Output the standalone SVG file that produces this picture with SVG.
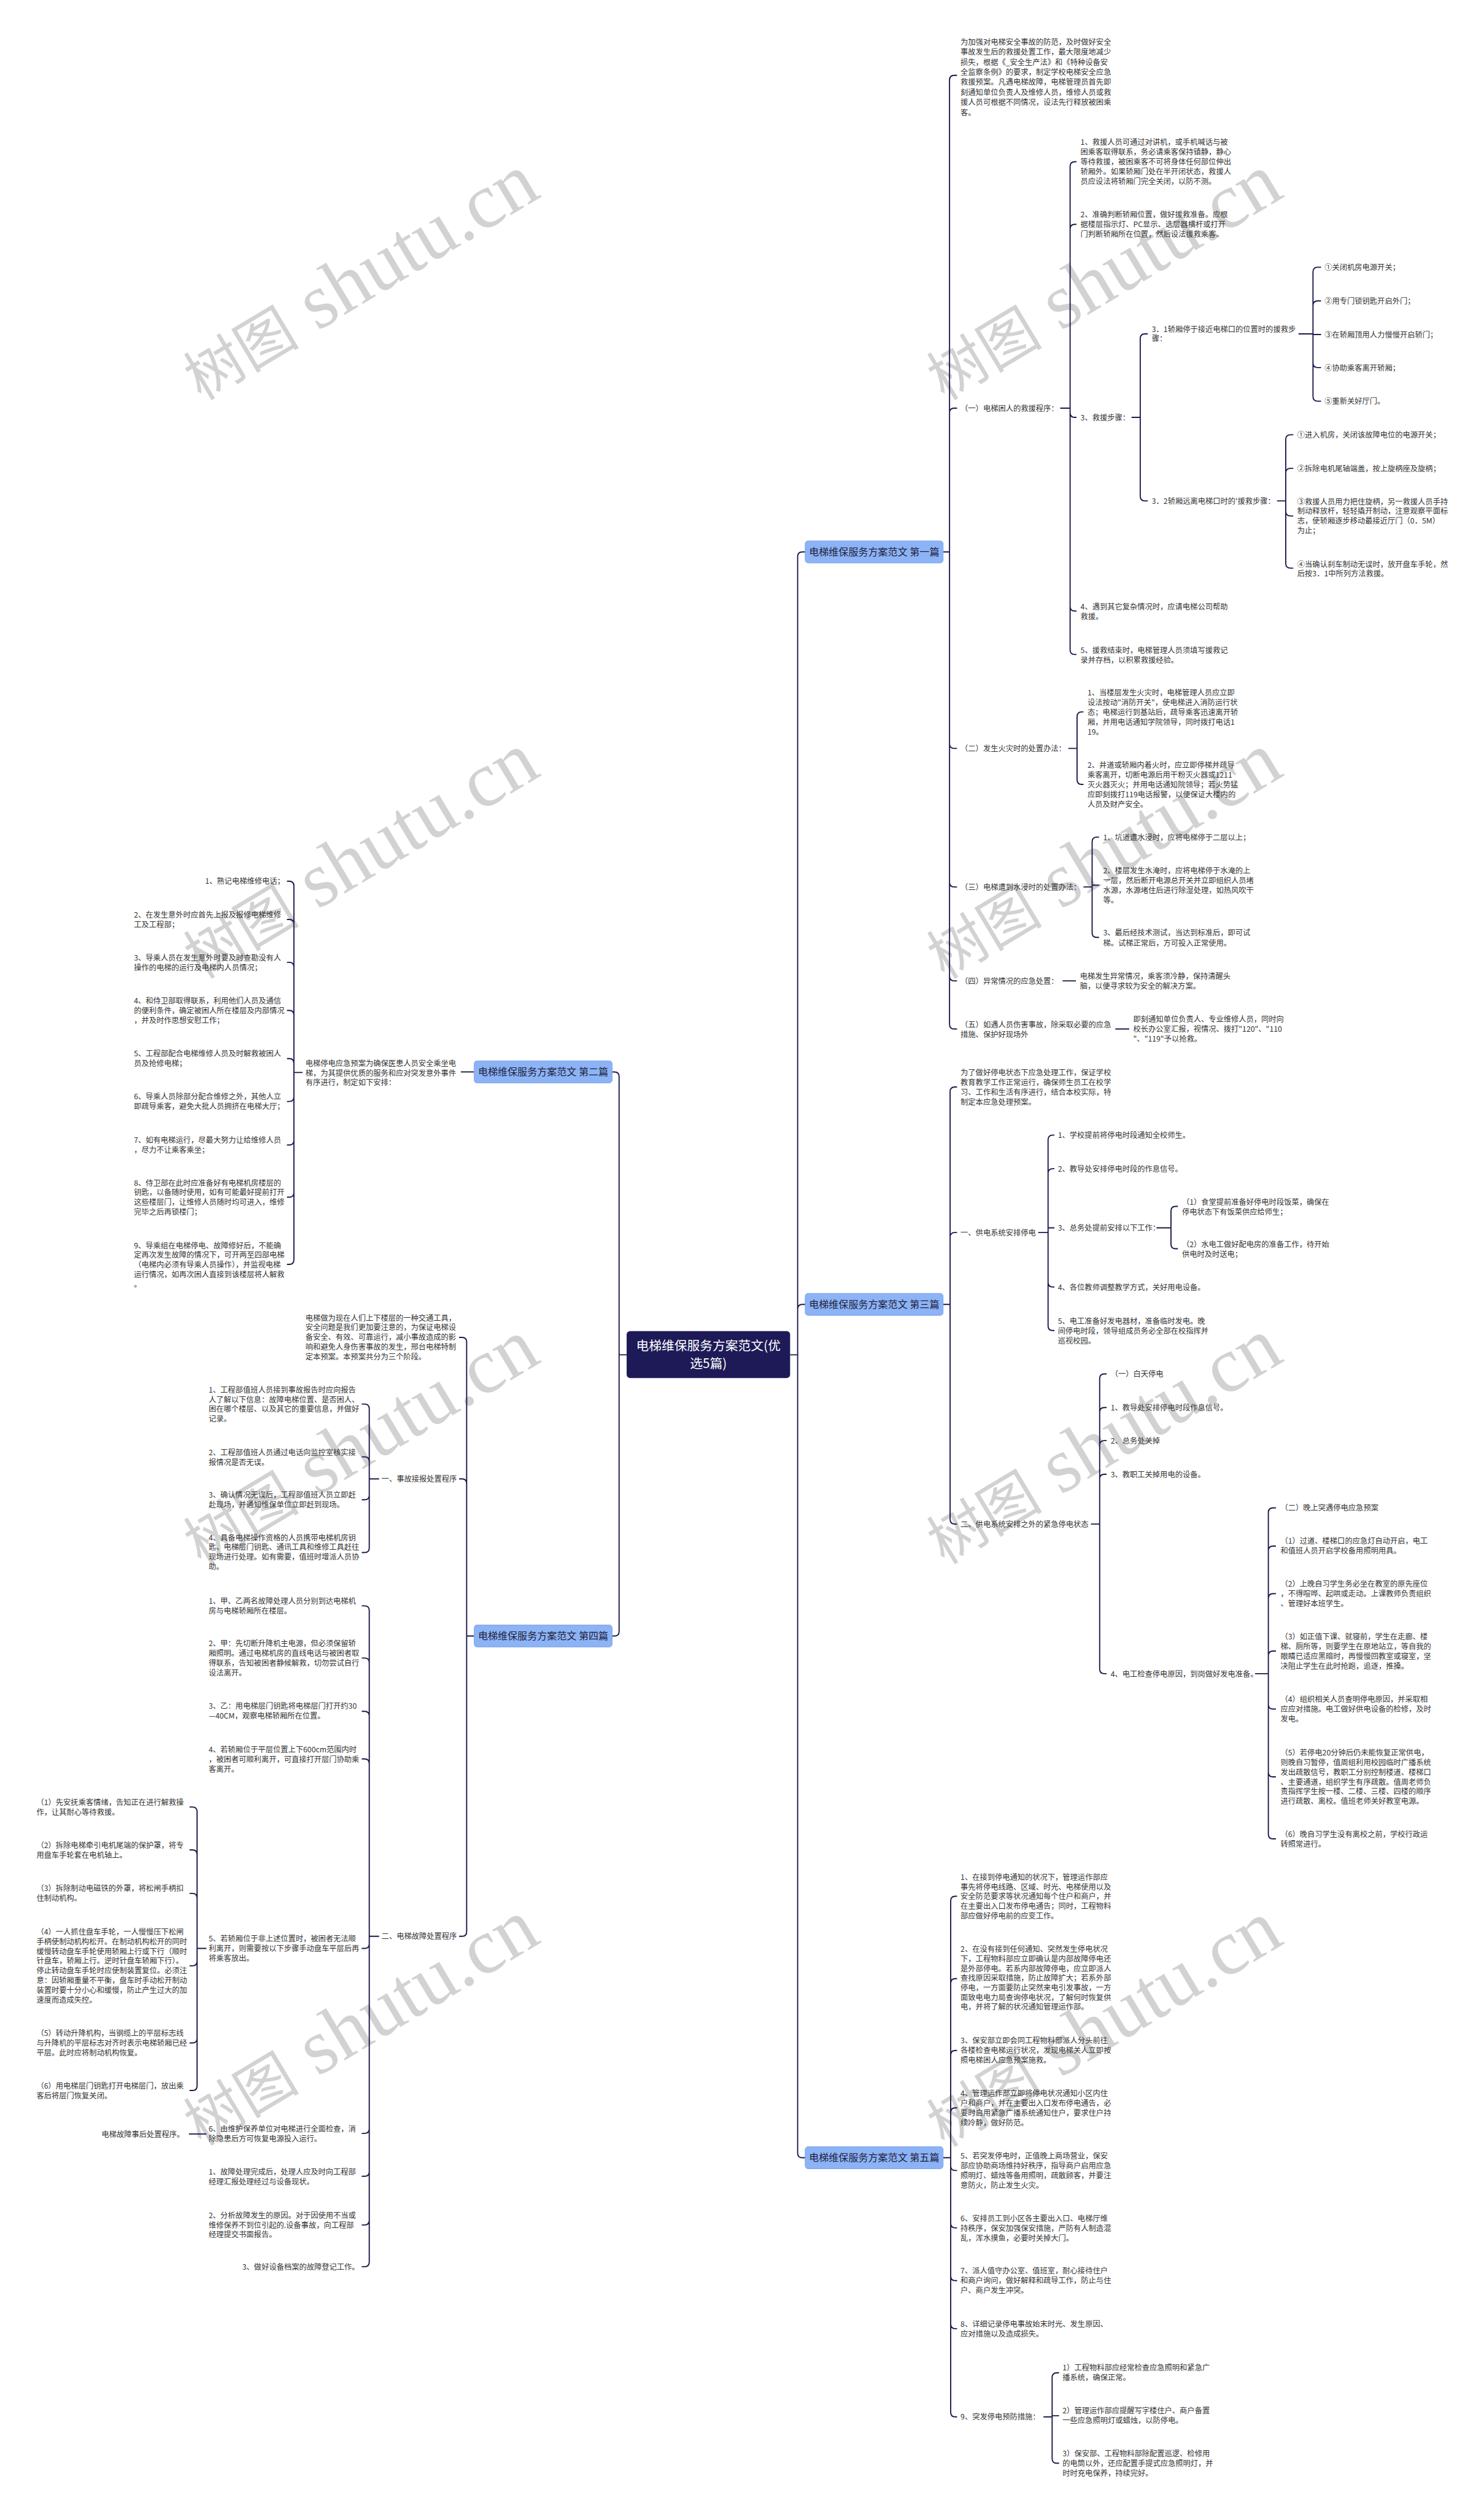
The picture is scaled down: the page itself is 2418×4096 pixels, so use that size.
<svg xmlns="http://www.w3.org/2000/svg" width="2418" height="4096" viewBox="0 0 2418 4096">
<style>
text{font-family:"Noto Sans CJK SC","Liberation Sans",sans-serif}
.t{font-size:13px;fill:#333}
.b{font-size:17px;fill:#1e1e3c;text-anchor:middle}
.br{fill:#8cb3f5;stroke:#7aa2ea;stroke-width:1}
.rt{fill:#1d1a57}
.r{font-size:22px;fill:#fff;text-anchor:middle}
.c path{fill:none;stroke:#1b1a4a;stroke-width:2}
.wm{font-family:"Liberation Serif","Noto Sans CJK SC",serif;fill:#d2d2d2}
.e{text-anchor:end}
</style>
<rect width="2418" height="4096" fill="#fff"/>
<g transform="scale(0.94453)">
<g id="watermarks">
<text class="wm" transform="translate(347,692) rotate(-31)"><tspan font-size="100">树图</tspan><tspan font-size="135"> shutu.cn</tspan></text>
<text class="wm" transform="translate(1629,692) rotate(-31)"><tspan font-size="100">树图</tspan><tspan font-size="135"> shutu.cn</tspan></text>
<text class="wm" transform="translate(347,1690) rotate(-31)"><tspan font-size="100">树图</tspan><tspan font-size="135"> shutu.cn</tspan></text>
<text class="wm" transform="translate(1629,1690) rotate(-31)"><tspan font-size="100">树图</tspan><tspan font-size="135"> shutu.cn</tspan></text>
<text class="wm" transform="translate(347,2702) rotate(-31)"><tspan font-size="100">树图</tspan><tspan font-size="135"> shutu.cn</tspan></text>
<text class="wm" transform="translate(1629,2700) rotate(-31)"><tspan font-size="100">树图</tspan><tspan font-size="135"> shutu.cn</tspan></text>
<text class="wm" transform="translate(347,3703) rotate(-31)"><tspan font-size="100">树图</tspan><tspan font-size="135"> shutu.cn</tspan></text>
<text class="wm" transform="translate(1629,3705) rotate(-31)"><tspan font-size="100">树图</tspan><tspan font-size="135"> shutu.cn</tspan></text>
</g>
<g id="connectors" class="c">
<path d="M1363 2337H1376M1376 2337V960Q1376 952 1384 952H1389M1376 2337V2258Q1376 2250 1384 2250H1389M1376 2337V3714Q1376 3722 1384 3722H1389"/>
<path d="M1081 2337H1068M1068 2337V1857Q1068 1849 1060 1849H1056M1068 2337V2814Q1068 2822 1060 2822H1056"/>
<path d="M1627 952H1638M1638 952V138Q1638 130 1646 130H1651M1638 952V712Q1638 704 1646 704H1651M1638 952V1283Q1638 1291 1646 1291H1651M1638 952V1522Q1638 1530 1646 1530H1651M1638 952V1684Q1638 1692 1646 1692H1651M1638 952V1767Q1638 1775 1646 1775H1651"/>
<path d="M1829 704H1846M1846 704V287Q1846 279 1854 279H1857M1846 704V395Q1846 387 1854 387H1857M1846 704V712Q1846 720 1854 720H1857M1846 704V1046Q1846 1054 1854 1054H1857M1846 704V1121Q1846 1129 1854 1129H1857"/>
<path d="M1952 720H1967M1967 720V584Q1967 576 1975 576H1980M1967 720V856Q1967 864 1975 864H1980"/>
<path d="M2240 576H2265M2265 576V469Q2265 461 2273 461H2279M2265 576V527Q2265 519 2273 519H2279M2265 576V577H2279M2265 576V626Q2265 634 2273 634H2279M2265 576V684Q2265 692 2273 692H2279"/>
<path d="M2203 864H2218M2218 864V758Q2218 750 2226 750H2231M2218 864V816Q2218 808 2226 808H2231M2218 864V882Q2218 890 2226 890H2231M2218 864V972Q2218 980 2226 980H2231"/>
<path d="M1843 1291H1858M1858 1291V1236Q1858 1228 1866 1228H1869M1858 1291V1345Q1858 1353 1866 1353H1869"/>
<path d="M1869 1530H1884M1884 1530V1452Q1884 1444 1892 1444H1896M1884 1530V1527H1896M1884 1530V1609Q1884 1617 1892 1617H1896"/>
<path d="M1833 1692H1856M1924 1775H1948"/>
<path d="M1627 2250H1639M1639 2250V1883Q1639 1875 1647 1875H1651M1639 2250V2134Q1639 2126 1647 2126H1651M1639 2250V2621Q1639 2629 1647 2629H1651"/>
<path d="M1791 2126H1808M1808 2126V1966Q1808 1958 1816 1958H1819M1808 2126V2024Q1808 2016 1816 2016H1819M1808 2126V2118H1819M1808 2126V2212Q1808 2220 1816 2220H1819M1808 2126V2287Q1808 2295 1816 2295H1819"/>
<path d="M1995 2118H2020M2020 2118V2089Q2020 2081 2028 2081H2032M2020 2118V2146Q2020 2154 2028 2154H2032"/>
<path d="M1882 2629H1897M1897 2629V2378Q1897 2370 1905 2370H1909M1897 2629V2436Q1897 2428 1905 2428H1909M1897 2629V2493Q1897 2485 1905 2485H1909M1897 2629V2551Q1897 2543 1905 2543H1909M1897 2629V2879Q1897 2887 1905 2887H1909"/>
<path d="M2165 2887H2188M2188 2887V2609Q2188 2601 2196 2601H2201M2188 2887V2675Q2188 2667 2196 2667H2201M2188 2887V2757Q2188 2749 2196 2749H2201M2188 2887V2856Q2188 2848 2196 2848H2201M2188 2887V2940Q2188 2948 2196 2948H2201M2188 2887V3057Q2188 3065 2196 3065H2201M2188 2887V3164Q2188 3172 2196 3172H2201"/>
<path d="M1627 3722H1640M1640 3722V3279Q1640 3271 1648 3271H1651M1640 3722V3421Q1640 3413 1648 3413H1651M1640 3722V3545Q1640 3537 1648 3537H1651M1640 3722V3644Q1640 3636 1648 3636H1651M1640 3722V3736Q1640 3744 1648 3744H1651M1640 3722V3835Q1640 3843 1648 3843H1651M1640 3722V3926Q1640 3934 1648 3934H1651M1640 3722V4009Q1640 4017 1648 4017H1651M1640 3722V4161Q1640 4169 1648 4169H1651"/>
<path d="M1800 4169H1815M1815 4169V4101Q1815 4093 1823 4093H1827M1815 4169V4167H1827M1815 4169V4241Q1815 4249 1823 4249H1827"/>
<path d="M818 1849H795"/>
<path d="M522 1850H507M507 1850V1528Q507 1520 499 1520H495M507 1850V1594Q507 1586 499 1586H495M507 1850V1668Q507 1660 499 1660H495M507 1850V1751Q507 1743 499 1743H495M507 1850V1834Q507 1826 499 1826H495M507 1850V1892Q507 1900 499 1900H495M507 1850V1967Q507 1975 499 1975H495M507 1850V2057Q507 2065 499 2065H495M507 1850V2173Q507 2181 499 2181H495"/>
<path d="M818 2822H805M805 2822V2315Q805 2307 797 2307H792M805 2822V2559Q805 2551 797 2551H792M805 2822V3332Q805 3340 797 3340H792"/>
<path d="M654 2551H637M637 2551V2430Q637 2422 629 2422H624M637 2551V2521Q637 2513 629 2513H624M637 2551V2579Q637 2587 629 2587H624M637 2551V2670Q637 2678 629 2678H624"/>
<path d="M654 3340H637M637 3340V2778Q637 2770 629 2770H624M637 3340V2868Q637 2860 629 2860H624M637 3340V2960Q637 2952 629 2952H624M637 3340V3042Q637 3034 629 3034H624M637 3340V3353Q637 3361 629 3361H624M637 3340V3672Q637 3680 629 3680H624M637 3340V3746Q637 3754 629 3754H624M637 3340V3830Q637 3838 629 3838H624M637 3340V3902Q637 3910 629 3910H624"/>
<path d="M356 3361H340M340 3361V3125Q340 3117 332 3117H327M340 3361V3199Q340 3191 332 3191H327M340 3361V3274Q340 3266 332 3266H327M340 3361V3383Q340 3391 332 3391H327M340 3361V3516Q340 3524 332 3524H327M340 3361V3598Q340 3606 332 3606H327"/>
<path d="M356 3681H326"/>
</g>
<g id="root"><rect class="rt" x="1081" y="2296" width="282" height="81" rx="6"/><text class="r" x="1222" y="2329">电梯维保服务方案范文(优<tspan x="1222" dy="31">选5篇)</tspan></text></g>
<g id="b1"><rect class="br" x="1389" y="933" width="238" height="38" rx="5"/><text class="b" x="1508" y="958">电梯维保服务方案范文 第一篇</text></g>
<g id="b2"><rect class="br" x="818" y="1830" width="238" height="38" rx="5"/><text class="b" x="937" y="1855">电梯维保服务方案范文 第二篇</text></g>
<g id="b3"><rect class="br" x="1389" y="2231" width="238" height="38" rx="5"/><text class="b" x="1508" y="2256">电梯维保服务方案范文 第三篇</text></g>
<g id="b4"><rect class="br" x="818" y="2803" width="238" height="38" rx="5"/><text class="b" x="937" y="2828">电梯维保服务方案范文 第四篇</text></g>
<g id="b5"><rect class="br" x="1389" y="3703" width="238" height="38" rx="5"/><text class="b" x="1508" y="3728">电梯维保服务方案范文 第五篇</text></g>
<g id="b1-intro"><text class="t" x="1657" y="77">为加强对电梯安全事故的防范，及时做好安全<tspan x="1657" dy="17.4">事故发生后的救援处置工作，最大限度地减少</tspan><tspan x="1657" dy="17.4">损失，根据《_安全生产法》和《特种设备安</tspan><tspan x="1657" dy="17.4">全监察条例》的要求，制定学校电梯安全应急</tspan><tspan x="1657" dy="17.4">救援预案。凡遇电梯故障，电梯管理员首先即</tspan><tspan x="1657" dy="17.4">刻通知单位负责人及维修人员，维修人员或救</tspan><tspan x="1657" dy="17.4">援人员可根据不同情况，设法先行释放被困乘</tspan><tspan x="1657" dy="17.4">客。</tspan></text></g>
<g id="b1-1"><text class="t" x="1657" y="709">（一）电梯困人的救援程序：</text></g>
<g id="b1-1-1"><text class="t" x="1864" y="250">1、救援人员可通过对讲机，或手机喊话与被<tspan x="1864" dy="17">困乘客取得联系，务必请乘客保持镇静，静心</tspan><tspan x="1864" dy="17">等待救援，被困乘客不可将身体任何部位伸出</tspan><tspan x="1864" dy="17">轿厢外。如果轿厢门处在半开闭状态，救援人</tspan><tspan x="1864" dy="17">员应设法将轿厢门完全关闭，以防不测。</tspan></text></g>
<g id="b1-1-2"><text class="t" x="1864" y="375">2、准确判断轿厢位置，做好援救准备。应根<tspan x="1864" dy="17">据楼层指示灯、PC显示、选层器横杆或打开</tspan><tspan x="1864" dy="17">门判断轿厢所在位置，然后设法援救乘客。</tspan></text></g>
<g id="b1-1-3"><text class="t" x="1864" y="725">3、救援步骤：</text></g>
<g id="b1-1-3-1"><text class="t" x="1987" y="573">3．1轿厢停于接近电梯口的位置时的援救步<tspan x="1987" dy="16">骤：</tspan></text></g>
<g id="b1-1-3-1a"><text class="t" x="2285" y="466">①关闭机房电源开关；</text></g>
<g id="b1-1-3-1b"><text class="t" x="2285" y="524">②用专门锁钥匙开启外门；</text></g>
<g id="b1-1-3-1c"><text class="t" x="2285" y="582">③在轿厢顶用人力慢慢开启轿门；</text></g>
<g id="b1-1-3-1d"><text class="t" x="2285" y="639">④协助乘客离开轿厢；</text></g>
<g id="b1-1-3-1e"><text class="t" x="2285" y="697">⑤重新关好厅门。</text></g>
<g id="b1-1-3-2"><text class="t" x="1987" y="869">3．2轿厢远离电梯口时的'援救步骤：</text></g>
<g id="b1-1-3-2a"><text class="t" x="2238" y="755">①进入机房，关闭该故障电位的电源开关；</text></g>
<g id="b1-1-3-2b"><text class="t" x="2238" y="813">②拆除电机尾轴端盖，按上旋柄座及旋柄；</text></g>
<g id="b1-1-3-2c"><text class="t" x="2238" y="870">③救援人员用力把住旋柄，另一救援人员手持<tspan x="2238" dy="16.7">制动释放杆，轻轻撬开制动，注意观察平面标</tspan><tspan x="2238" dy="16.7">志，使轿厢逐步移动最接近厅门（0．5M）</tspan><tspan x="2238" dy="16.7">为止；</tspan></text></g>
<g id="b1-1-3-2d"><text class="t" x="2238" y="978">④当确认刹车制动无误时，放开盘车手轮，然<tspan x="2238" dy="16.5">后按3．1中所列方法救援。</tspan></text></g>
<g id="b1-1-4"><text class="t" x="1864" y="1051">4、遇到其它复杂情况时，应请电梯公司帮助<tspan x="1864" dy="17">救援。</tspan></text></g>
<g id="b1-1-5"><text class="t" x="1864" y="1126">5、援救结束时，电梯管理人员须填写援救记<tspan x="1864" dy="17">录并存档，以积累救援经验。</tspan></text></g>
<g id="b1-2"><text class="t" x="1657" y="1296">（二）发生火灾时的处置办法：</text></g>
<g id="b1-2-1"><text class="t" x="1876" y="1200">1、当楼层发生火灾时，电梯管理人员应立即<tspan x="1876" dy="16.7">设法按动"消防开关"，使电梯进入消防运行状</tspan><tspan x="1876" dy="16.7">态；电梯运行到基站后，疏导乘客迅速离开轿</tspan><tspan x="1876" dy="16.7">厢，并用电话通知学院领导，同时拨打电话1</tspan><tspan x="1876" dy="16.7">19。</tspan></text></g>
<g id="b1-2-2"><text class="t" x="1876" y="1325">2、井道或轿厢内着火时，应立即停梯并疏导<tspan x="1876" dy="16.7">乘客离开，切断电源后用干粉灭火器或1211</tspan><tspan x="1876" dy="16.7">灭火器灭火；并用电话通知院领导；若火势猛</tspan><tspan x="1876" dy="16.7">应即刻拨打119电话报警，以便保证大楼内的</tspan><tspan x="1876" dy="16.7">人员及财产安全。</tspan></text></g>
<g id="b1-3"><text class="t" x="1657" y="1535">（三）电梯遭到水浸时的处置办法：</text></g>
<g id="b1-3-1"><text class="t" x="1903" y="1449">1、坑道遭水浸时，应将电梯停于二层以上；</text></g>
<g id="b1-3-2"><text class="t" x="1903" y="1507">2、楼层发生水淹时，应将电梯停于水淹的上<tspan x="1903" dy="16.7">一层，然后断开电源总开关并立即组织人员堵</tspan><tspan x="1903" dy="16.7">水源，水源堵住后进行除湿处理，如热风吹干</tspan><tspan x="1903" dy="16.7">等。</tspan></text></g>
<g id="b1-3-3"><text class="t" x="1903" y="1614">3、最后经技术测试，当达到标准后，即可试<tspan x="1903" dy="17">梯。试梯正常后，方可投入正常使用。</tspan></text></g>
<g id="b1-4"><text class="t" x="1657" y="1697">（四）异常情况的应急处置：</text></g>
<g id="b1-4-1"><text class="t" x="1863" y="1689">电梯发生异常情况，乘客须冷静，保持清醒头<tspan x="1863" dy="17">脑，以便寻求较为安全的解决方案。</tspan></text></g>
<g id="b1-5"><text class="t" x="1657" y="1772">（五）如遇人员伤害事故，除采取必要的应急<tspan x="1657" dy="17">措施、保护好现场外</tspan></text></g>
<g id="b1-5-1"><text class="t" x="1955" y="1763">即刻通知单位负责人、专业维修人员，同时向<tspan x="1955" dy="16.7">校长办公室汇报，视情况、拨打"120"、"110</tspan><tspan x="1955" dy="16.7">"、"119"予以抢救。</tspan></text></g>
<g id="b3-intro"><text class="t" x="1657" y="1855">为了做好停电状态下应急处理工作，保证学校<tspan x="1657" dy="17">教育教学工作正常运行，确保师生员工在校学</tspan><tspan x="1657" dy="17">习、工作和生活有序进行，结合本校实际，特</tspan><tspan x="1657" dy="17">制定本应急处理预案。</tspan></text></g>
<g id="b3-1"><text class="t" x="1657" y="2131">一、供电系统安排停电</text></g>
<g id="b3-1-1"><text class="t" x="1825" y="1963">1、学校提前将停电时段通知全校师生。</text></g>
<g id="b3-1-2"><text class="t" x="1825" y="2021">2、教导处安排停电时段的作息信号。</text></g>
<g id="b3-1-3"><text class="t" x="1825" y="2123">3、总务处提前安排以下工作：</text></g>
<g id="b3-1-3-1"><text class="t" x="2039" y="2078">（1）食堂提前准备好停电时段饭菜，确保在<tspan x="2039" dy="17">停电状态下有饭菜供应给师生；</tspan></text></g>
<g id="b3-1-3-2"><text class="t" x="2039" y="2151">（2）水电工做好配电房的准备工作，待开始<tspan x="2039" dy="17">供电时及时送电；</tspan></text></g>
<g id="b3-1-4"><text class="t" x="1825" y="2225">4、各位教师调整教学方式，关好用电设备。</text></g>
<g id="b3-1-5"><text class="t" x="1825" y="2284">5、电工准备好发电器材，准备临时发电。晚<tspan x="1825" dy="16.7">间停电时段，领导组成员务必全部在校指挥并</tspan><tspan x="1825" dy="16.7">巡视校园。</tspan></text></g>
<g id="b3-2"><text class="t" x="1657" y="2634">二、供电系统安排之外的紧急停电状态</text></g>
<g id="b3-2-1"><text class="t" x="1916" y="2375">（一）白天停电</text></g>
<g id="b3-2-2"><text class="t" x="1916" y="2433">1、教导处安排停电时段作息信号。</text></g>
<g id="b3-2-3"><text class="t" x="1916" y="2490">2、总务处关掉</text></g>
<g id="b3-2-4"><text class="t" x="1916" y="2548">3、教职工关掉用电的设备。</text></g>
<g id="b3-2-5"><text class="t" x="1916" y="2892">4、电工检查停电原因，到岗做好发电准备。</text></g>
<g id="b3-2-5-0"><text class="t" x="2209" y="2606">（二）晚上突遇停电应急预案</text></g>
<g id="b3-2-5-1"><text class="t" x="2209" y="2663">（1）过道、楼梯口的应急灯自动开启，电工<tspan x="2209" dy="17">和值班人员开启学校备用照明用具。</tspan></text></g>
<g id="b3-2-5-2"><text class="t" x="2209" y="2737">（2）上晚自习学生务必坐在教室的原先座位<tspan x="2209" dy="17">，不得喧哗、起哄或走动。上课教师负责组织</tspan><tspan x="2209" dy="17">、管理好本班学生。</tspan></text></g>
<g id="b3-2-5-3"><text class="t" x="2209" y="2828">（3）如正值下课、就寝前，学生在走廊、楼<tspan x="2209" dy="17">梯、厕所等，则要学生在原地站立，等自我的</tspan><tspan x="2209" dy="17">眼睛已适应黑暗时，再慢慢回教室或寝室，坚</tspan><tspan x="2209" dy="17">决阻止学生在此时抢跑，追逐，推搡。</tspan></text></g>
<g id="b3-2-5-4"><text class="t" x="2209" y="2936">（4）组织相关人员查明停电原因，并采取相<tspan x="2209" dy="17">应应对措施。电工做好供电设备的检修，及时</tspan><tspan x="2209" dy="17">发电。</tspan></text></g>
<g id="b3-2-5-5"><text class="t" x="2209" y="3028">（5）若停电20分钟后仍未能恢复正常供电，<tspan x="2209" dy="16.8">则晚自习暂停，值周组利用校园临时广播系统</tspan><tspan x="2209" dy="16.8">发出疏散信号，教职工分别控制楼道、楼梯口</tspan><tspan x="2209" dy="16.8">、主要通道，组织学生有序疏散。值周老师负</tspan><tspan x="2209" dy="16.8">责指挥学生按一楼、二楼、三楼、四楼的顺序</tspan><tspan x="2209" dy="16.8">进行疏散、离校。值班老师关好教室电源。</tspan></text></g>
<g id="b3-2-5-6"><text class="t" x="2209" y="3169">（6）晚自习学生没有离校之前，学校行政运<tspan x="2209" dy="17">转照常进行。</tspan></text></g>
<g id="b5-1"><text class="t" x="1657" y="3243">1、在接到停电通知的状况下，管理运作部应<tspan x="1657" dy="16.6">事先将停电线路、区域、时光、电梯使用以及</tspan><tspan x="1657" dy="16.6">安全防范要求等状况通知每个住户和商户，并</tspan><tspan x="1657" dy="16.6">在主要出入口发布停电通告；同时，工程物料</tspan><tspan x="1657" dy="16.6">部应做好停电前的应变工作。</tspan></text></g>
<g id="b5-2"><text class="t" x="1657" y="3367">2、在没有接到任何通知、突然发生停电状况<tspan x="1657" dy="16.6">下，工程物料部应立即确认是内部故障停电还</tspan><tspan x="1657" dy="16.6">是外部停电。若系内部故障停电，应立即派人</tspan><tspan x="1657" dy="16.6">查找原因采取措施，防止故障扩大；若系外部</tspan><tspan x="1657" dy="16.6">停电，一方面要防止突然来电引发事故，一方</tspan><tspan x="1657" dy="16.6">面致电电力局查询停电状况，了解何时恢复供</tspan><tspan x="1657" dy="16.6">电，并将了解的状况通知管理运作部。</tspan></text></g>
<g id="b5-3"><text class="t" x="1657" y="3525">3、保安部立即会同工程物料部派人分头前往<tspan x="1657" dy="16.8">各楼检查电梯运行状况，发现电梯关人立即按</tspan><tspan x="1657" dy="16.8">照电梯困人应急预案施救。</tspan></text></g>
<g id="b5-4"><text class="t" x="1657" y="3616">4、管理运作部立即将停电状况通知小区内住<tspan x="1657" dy="16.8">户和商户，并在主要出入口发布停电通告，必</tspan><tspan x="1657" dy="16.8">要时启用紧急广播系统通知住户，要求住户持</tspan><tspan x="1657" dy="16.8">续冷静，做好防范。</tspan></text></g>
<g id="b5-5"><text class="t" x="1657" y="3724">5、若突发停电时，正值晚上商场营业，保安<tspan x="1657" dy="16.8">部应协助商场维持好秩序，指导商户启用应急</tspan><tspan x="1657" dy="16.8">照明灯、蜡烛等备用照明，疏散顾客，并要注</tspan><tspan x="1657" dy="16.8">意防火，防止发生火灾。</tspan></text></g>
<g id="b5-6"><text class="t" x="1657" y="3832">6、安排员工到小区各主要出入口、电梯厅维<tspan x="1657" dy="16.6">持秩序，保安加强保安措施，严防有人制造混</tspan><tspan x="1657" dy="16.6">乱，浑水摸鱼，必要时关掉大门。</tspan></text></g>
<g id="b5-7"><text class="t" x="1657" y="3922">7、派人值守办公室、值班室，耐心接待住户<tspan x="1657" dy="16.8">和商户询问，做好解释和疏导工作，防止与住</tspan><tspan x="1657" dy="16.8">户、商户发生冲突。</tspan></text></g>
<g id="b5-8"><text class="t" x="1657" y="4014">8、详细记录停电事故始末时光、发生原因、<tspan x="1657" dy="16.5">应对措施以及造成损失。</tspan></text></g>
<g id="b5-9"><text class="t" x="1657" y="4174">9、突发停电预防措施：</text></g>
<g id="b5-9-1"><text class="t" x="1833" y="4089">1）工程物料部应经常检查应急照明和紧急广<tspan x="1833" dy="17">播系统，确保正常。</tspan></text></g>
<g id="b5-9-2"><text class="t" x="1833" y="4163">2）管理运作部应提醒写字楼住户、商户备置<tspan x="1833" dy="17">一些应急照明灯或蜡烛，以防停电。</tspan></text></g>
<g id="b5-9-3"><text class="t" x="1833" y="4237">3）保安部、工程物料部除配置巡逻、检修用<tspan x="1833" dy="16.7">的电筒以外，还应配置手提式应急照明灯，并</tspan><tspan x="1833" dy="16.7">时时充电保养，持续完好。</tspan></text></g>
<g id="b2-intro"><text class="t" x="527" y="1839">电梯停电应急预案为确保医患人员安全乘坐电<tspan x="527" dy="16.6">梯，为其提供优质的服务和应对突发意外事件</tspan><tspan x="527" dy="16.6">有序进行，制定如下安排：</tspan></text></g>
<g id="b2-1"><text class="t e" x="491" y="1525">1、熟记电梯维修电话；</text></g>
<g id="b2-2"><text class="t" x="231" y="1583">2、在发生意外时应首先上报及报修电梯维修<tspan x="231" dy="16.6">工及工程部；</tspan></text></g>
<g id="b2-3"><text class="t" x="231" y="1657">3、导乘人员在发生意外时要及时查勘没有人<tspan x="231" dy="16.8">操作的电梯的运行及电梯内人员情况；</tspan></text></g>
<g id="b2-4"><text class="t" x="231" y="1731">4、和侍卫部取得联系，利用他们人员及通信<tspan x="231" dy="16.8">的便利条件，确定被困人所在楼层及内部情况</tspan><tspan x="231" dy="16.8">，并及时作思想安慰工作；</tspan></text></g>
<g id="b2-5"><text class="t" x="231" y="1822">5、工程部配合电梯维修人员及时解救被困人<tspan x="231" dy="16.8">员及抢修电梯；</tspan></text></g>
<g id="b2-6"><text class="t" x="231" y="1896">6、导乘人员除部分配合维修之外，其他人立<tspan x="231" dy="16.8">即疏导乘客，避免大批人员拥挤在电梯大厅；</tspan></text></g>
<g id="b2-7"><text class="t" x="231" y="1971">7、如有电梯运行，尽最大努力让给维修人员<tspan x="231" dy="16.8">，尽力不让乘客乘坐；</tspan></text></g>
<g id="b2-8"><text class="t" x="231" y="2045">8、侍卫部在此时应准备好有电梯机房楼层的<tspan x="231" dy="16.8">钥匙，以备随时使用，如有可能最好提前打开</tspan><tspan x="231" dy="16.8">这些楼层门，让维修人员随时均可进入，维修</tspan><tspan x="231" dy="16.8">完毕之后再锁楼门；</tspan></text></g>
<g id="b2-9"><text class="t" x="231" y="2153">9、导乘组在电梯停电、故障修好后，不能确<tspan x="231" dy="16.8">定再次发生故障的情况下，可开两至四部电梯</tspan><tspan x="231" dy="16.8">（电梯内必须有导乘人员操作），并监视电梯</tspan><tspan x="231" dy="16.8">运行情况，如再次困人直接到该楼层将人解救</tspan><tspan x="231" dy="16.8">。</tspan></text></g>
<g id="b4-intro"><text class="t" x="527" y="2278">电梯做为现在人们上下楼层的一种交通工具，<tspan x="527" dy="16.8">安全问题是我们更加要注意的，为保证电梯设</tspan><tspan x="527" dy="16.8">备安全、有效、可靠运行，减小事故造成的影</tspan><tspan x="527" dy="16.8">响和避免人身伤害事故的发生，邢台电梯特制</tspan><tspan x="527" dy="16.8">定本预案。本预案共分为三个阶段。</tspan></text></g>
<g id="b4-1"><text class="t e" x="788" y="2556">一、事故接报处置程序</text></g>
<g id="b4-1-1"><text class="t" x="360" y="2402">1、工程部值班人员接到事故报告时应向报告<tspan x="360" dy="16.8">人了解以下信息：故障电梯位置、是否困人、</tspan><tspan x="360" dy="16.8">困在哪个楼层、以及其它的重要信息，并做好</tspan><tspan x="360" dy="16.8">记录。</tspan></text></g>
<g id="b4-1-2"><text class="t" x="360" y="2510">2、工程部值班人员通过电话向监控室核实接<tspan x="360" dy="16.8">报情况是否无误。</tspan></text></g>
<g id="b4-1-3"><text class="t" x="360" y="2583">3、确认情况无误后，工程部值班人员立即赶<tspan x="360" dy="16.8">赴现场，并通知维保单位立即赶到现场。</tspan></text></g>
<g id="b4-1-4"><text class="t" x="360" y="2657">4、具备电梯操作资格的人员携带电梯机房钥<tspan x="360" dy="16.8">匙、电梯层门钥匙、通讯工具和维修工具赶往</tspan><tspan x="360" dy="16.8">现场进行处理。如有需要，值班时增派人员协</tspan><tspan x="360" dy="16.8">助。</tspan></text></g>
<g id="b4-2"><text class="t e" x="788" y="3345">二、电梯故障处置程序</text></g>
<g id="b4-2-1"><text class="t" x="360" y="2767">1、甲、乙两名故障处理人员分别到达电梯机<tspan x="360" dy="16.8">房与电梯轿厢所在楼层。</tspan></text></g>
<g id="b4-2-2"><text class="t" x="360" y="2840">2、甲：先切断升降机主电源，但必须保留轿<tspan x="360" dy="16.8">厢照明。通过电梯机房的直线电话与被困者取</tspan><tspan x="360" dy="16.8">得联系，告知被困者静候解救，切勿尝试自行</tspan><tspan x="360" dy="16.8">设法离开。</tspan></text></g>
<g id="b4-2-3"><text class="t" x="360" y="2948">3、乙：用电梯层门钥匙将电梯层门打开约30<tspan x="360" dy="16.8">—40CM，观察电梯轿厢所在位置。</tspan></text></g>
<g id="b4-2-4"><text class="t" x="360" y="3023">4、若轿厢位于平层位置上下600cm范围内时<tspan x="360" dy="16.8">，被困者可顺利离开，可直接打开层门协助乘</tspan><tspan x="360" dy="16.8">客离开。</tspan></text></g>
<g id="b4-2-5"><text class="t" x="360" y="3349">5、若轿厢位于非上述位置时，被困者无法顺<tspan x="360" dy="16.8">利离开，则需要按以下步骤手动盘车平层后再</tspan><tspan x="360" dy="16.8">将乘客放出。</tspan></text></g>
<g id="b4-2-5-1"><text class="t" x="63" y="3114">（1）先安抚乘客情绪，告知正在进行解救操<tspan x="63" dy="16.8">作，让其耐心等待救援。</tspan></text></g>
<g id="b4-2-5-2"><text class="t" x="63" y="3188">（2）拆除电梯牵引电机尾端的保护罩，将专<tspan x="63" dy="16.8">用盘车手轮套在电机轴上。</tspan></text></g>
<g id="b4-2-5-3"><text class="t" x="63" y="3262">（3）拆除制动电磁铁的外罩，将松闸手柄扣<tspan x="63" dy="16.8">住制动机构。</tspan></text></g>
<g id="b4-2-5-4"><text class="t" x="63" y="3337">（4）一人抓住盘车手轮，一人慢慢压下松闸<tspan x="63" dy="16.8">手柄使制动机构松开。在制动机构松开的同时</tspan><tspan x="63" dy="16.8">缓慢转动盘车手轮使用轿厢上行或下行（顺时</tspan><tspan x="63" dy="16.8">针盘车，轿厢上行。逆时针盘车轿厢下行）。</tspan><tspan x="63" dy="16.8">停止转动盘车手轮时应使制装置复位。必须注</tspan><tspan x="63" dy="16.8">意：因轿厢重量不平衡，盘车时手动松开制动</tspan><tspan x="63" dy="16.8">装置时要十分小心和缓慢，防止产生过大的加</tspan><tspan x="63" dy="16.8">速度而造成失控。</tspan></text></g>
<g id="b4-2-5-5"><text class="t" x="63" y="3512">（5）转动升降机构，当钢缆上的平层标志线<tspan x="63" dy="16.8">与升降机的平层标志对齐时表示电梯轿厢已经</tspan><tspan x="63" dy="16.8">平层。此时应将制动机构恢复。</tspan></text></g>
<g id="b4-2-5-6"><text class="t" x="63" y="3603">（6）用电梯层门钥匙打开电梯层门，放出乘<tspan x="63" dy="16.8">客后将层门恢复关闭。</tspan></text></g>
<g id="b4-2-6"><text class="t" x="360" y="3677">6、由维护保养单位对电梯进行全面检查，消<tspan x="360" dy="16.8">除隐患后方可恢复电源投入运行。</tspan></text></g>
<g id="b4-2-6-1"><text class="t e" x="318" y="3686">电梯故障事后处置程序。</text></g>
<g id="b4-2-7"><text class="t" x="360" y="3751">1、故障处理完成后，处理人应及时向工程部<tspan x="360" dy="16.8">经理汇报处理经过与设备现状。</tspan></text></g>
<g id="b4-2-8"><text class="t" x="360" y="3826">2、分析故障发生的原因。对于因使用不当或<tspan x="360" dy="16.8">维修保养不到位引起的.设备事故，向工程部</tspan><tspan x="360" dy="16.8">经理提交书面报告。</tspan></text></g>
<g id="b4-2-9"><text class="t e" x="620" y="3915">3、做好设备档案的故障登记工作。</text></g>
</g>
</svg>
